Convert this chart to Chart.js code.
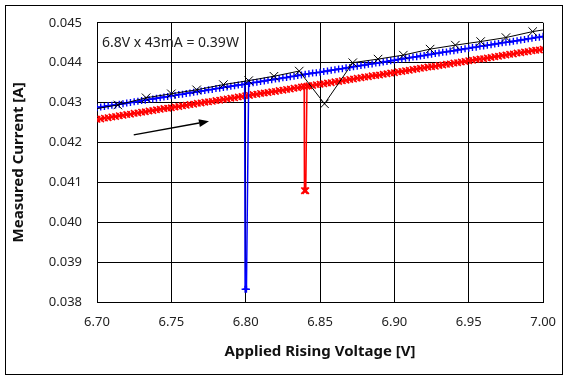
<!DOCTYPE html>
<html>
<head>
<meta charset="utf-8">
<script src="https://cdn.jsdelivr.net/npm/chart.js@4.4.1/dist/chart.umd.min.js"></script>
<style>
  html, body { margin: 0; padding: 0; background: #fff; }
  #wrap { position: relative; width: 568px; height: 379px; background: #fff; }
  #c { position: absolute; left: 0; top: 0; }
  #frame { position: absolute; left: 5px; top: 5px; width: 556px; height: 368px; border: 1px solid #000; pointer-events: none; }
</style>
</head>
<body>
<div id="wrap">
  <canvas id="c" width="568" height="379"></canvas>
  <div id="frame"></div>
</div>
<script>
// ---- Data ----
const voltage = [
  6.7000, 6.7025, 6.7050, 6.7075, 6.7100, 6.7125, 6.7150, 6.7175, 6.7200, 6.7225,
  6.7250, 6.7275, 6.7300, 6.7325, 6.7350, 6.7375, 6.7400, 6.7425, 6.7450, 6.7475,
  6.7500, 6.7525, 6.7550, 6.7575, 6.7600, 6.7625, 6.7650, 6.7675, 6.7700, 6.7725,
  6.7750, 6.7775, 6.7800, 6.7825, 6.7850, 6.7875, 6.7900, 6.7925, 6.7950, 6.7975,
  6.8000, 6.8025, 6.8050, 6.8075, 6.8100, 6.8125, 6.8150, 6.8175, 6.8200, 6.8225,
  6.8250, 6.8275, 6.8300, 6.8325, 6.8350, 6.8375, 6.8400, 6.8425, 6.8450, 6.8475,
  6.8500, 6.8525, 6.8550, 6.8575, 6.8600, 6.8625, 6.8650, 6.8675, 6.8700, 6.8725,
  6.8750, 6.8775, 6.8800, 6.8825, 6.8850, 6.8875, 6.8900, 6.8925, 6.8950, 6.8975,
  6.9000, 6.9025, 6.9050, 6.9075, 6.9100, 6.9125, 6.9150, 6.9175, 6.9200, 6.9225,
  6.9250, 6.9275, 6.9300, 6.9325, 6.9350, 6.9375, 6.9400, 6.9425, 6.9450, 6.9475,
  6.9500, 6.9525, 6.9550, 6.9575, 6.9600, 6.9625, 6.9650, 6.9675, 6.9700, 6.9725,
  6.9750, 6.9775, 6.9800, 6.9825, 6.9850, 6.9875, 6.9900, 6.9925, 6.9950, 6.9975,
  7.0000
];

// null = replaced by the dip readings below
const blueCurrent = [
  0.04287, 0.04289, 0.04290, 0.04292, 0.04293, 0.04294, 0.04296, 0.04297, 0.04299, 0.04300,
  0.04302, 0.04303, 0.04305, 0.04306, 0.04308, 0.04309, 0.04311, 0.04312, 0.04314, 0.04315,
  0.04317, 0.04318, 0.04320, 0.04321, 0.04323, 0.04324, 0.04326, 0.04327, 0.04329, 0.04330,
  0.04332, 0.04333, 0.04335, 0.04336, 0.04338, 0.04339, 0.04341, 0.04342, 0.04344, 0.04345,
  null,    0.04348, 0.04350, 0.04351, 0.04353, 0.04354, 0.04356, 0.04357, 0.04359, 0.04360,
  0.04362, 0.04363, 0.04365, 0.04366, 0.04368, 0.04369, 0.04371, 0.04372, 0.04374, 0.04375,
  0.04376, 0.04378, 0.04379, 0.04381, 0.04382, 0.04384, 0.04385, 0.04387, 0.04388, 0.04390,
  0.04391, 0.04393, 0.04394, 0.04396, 0.04397, 0.04399, 0.04400, 0.04402, 0.04403, 0.04405,
  0.04406, 0.04408, 0.04409, 0.04411, 0.04412, 0.04414, 0.04415, 0.04417, 0.04418, 0.04420,
  0.04421, 0.04423, 0.04424, 0.04426, 0.04427, 0.04429, 0.04430, 0.04432, 0.04433, 0.04435,
  0.04436, 0.04438, 0.04439, 0.04441, 0.04442, 0.04444, 0.04445, 0.04447, 0.04448, 0.04450,
  0.04451, 0.04452, 0.04454, 0.04455, 0.04457, 0.04458, 0.04460, 0.04461, 0.04463, 0.04464,
  0.04466
];
const blueDipVoltage = [6.7993, 6.7996, 6.8005, 6.8020];
const blueDipCurrent = [0.04346, 0.03832, 0.03832, 0.04349];

const redCurrent = [
  0.04258, 0.04259, 0.04261, 0.04262, 0.04264, 0.04265, 0.04267, 0.04268, 0.04270, 0.04271,
  0.04273, 0.04274, 0.04276, 0.04277, 0.04279, 0.04280, 0.04282, 0.04283, 0.04285, 0.04286,
  0.04287, 0.04289, 0.04290, 0.04292, 0.04293, 0.04295, 0.04296, 0.04298, 0.04299, 0.04301,
  0.04302, 0.04303, 0.04305, 0.04306, 0.04308, 0.04309, 0.04311, 0.04312, 0.04314, 0.04315,
  0.04317, 0.04318, 0.04320, 0.04321, 0.04323, 0.04324, 0.04325, 0.04327, 0.04328, 0.04330,
  0.04331, 0.04333, 0.04334, 0.04336, 0.04337, 0.04339, null,    0.04342, 0.04343, 0.04345,
  0.04346, 0.04347, 0.04349, 0.04350, 0.04352, 0.04353, 0.04355, 0.04356, 0.04358, 0.04359,
  0.04361, 0.04362, 0.04364, 0.04365, 0.04367, 0.04368, 0.04369, 0.04371, 0.04372, 0.04374,
  0.04375, 0.04377, 0.04378, 0.04380, 0.04381, 0.04383, 0.04384, 0.04386, 0.04387, 0.04389,
  0.04390, 0.04391, 0.04393, 0.04394, 0.04396, 0.04397, 0.04399, 0.04400, 0.04402, 0.04403,
  0.04405, 0.04406, 0.04408, 0.04409, 0.04410, 0.04412, 0.04413, 0.04415, 0.04416, 0.04418,
  0.04419, 0.04421, 0.04422, 0.04424, 0.04425, 0.04427, 0.04428, 0.04430, 0.04431, 0.04432,
  0.04434
];
const redDipVoltage = [6.8393, 6.8395, 6.8404, 6.8412];
const redDipCurrent = [0.04340, 0.04079, 0.04079, 0.04341];

const blackVoltage = [6.700, 6.714, 6.733, 6.750, 6.767, 6.785, 6.802, 6.819, 6.836, 6.853,
                      6.872, 6.889, 6.906, 6.924, 6.941, 6.958, 6.975, 6.993, 7.000];
const blackCurrent = [0.04285, 0.04294, 0.04312, 0.04322, 0.04332, 0.04345, 0.04355, 0.04366, 0.04379, 0.04297,
                      0.04400, 0.04409, 0.04419, 0.04434, 0.04444, 0.04453, 0.04463, 0.04478, 0.04482];

const xTickLabels = ['6.70', '6.75', '6.80', '6.85', '6.90', '6.95', '7.00'];
const yTickLabels = ['0.038', '0.039', '0.040', '0.041', '0.042', '0.043', '0.044', '0.045'];

const noteText = '6.8V x 43mA = 0.39W';
const xTitle = 'Applied Rising Voltage [V]';
const yTitle = 'Measured Current [A]';

// annotation anchors in data units
const noteAnchor = { x: 6.7033, y: 0.04449 };
const arrowFrom = { x: 6.7247, y: 0.04219 };
const arrowTo = { x: 6.7753, y: 0.04253 };

// ---- Build chart ----
const toPts = (xs, ys) => xs.map((x, i) => ({ x: x, y: ys[i] })).filter(p => p.y !== null);
const merged = (xs, ys, dx, dy) => toPts(xs, ys).concat(toPts(dx, dy)).sort((a, b) => a.x - b.x);

const annotationPlugin = {
  id: 'notes',
  afterDatasetsDraw(chart) {
    const { ctx, scales: { x, y } } = chart;
    ctx.save();
    ctx.fillStyle = '#222';
    ctx.font = '14px "Noto Sans", "DejaVu Sans", sans-serif';
    ctx.textAlign = 'left';
    ctx.textBaseline = 'middle';
    ctx.fillText(noteText, x.getPixelForValue(noteAnchor.x), y.getPixelForValue(noteAnchor.y));
    const x0 = x.getPixelForValue(arrowFrom.x), y0 = y.getPixelForValue(arrowFrom.y);
    const x1 = x.getPixelForValue(arrowTo.x), y1 = y.getPixelForValue(arrowTo.y);
    const ang = Math.atan2(y1 - y0, x1 - x0);
    const headLen = 10, headW = 4;
    const bx = x1 - headLen * Math.cos(ang), by = y1 - headLen * Math.sin(ang);
    ctx.strokeStyle = '#000';
    ctx.lineWidth = 1.5;
    ctx.beginPath();
    ctx.moveTo(x0, y0);
    ctx.lineTo(bx, by);
    ctx.stroke();
    ctx.fillStyle = '#000';
    ctx.beginPath();
    ctx.moveTo(x1, y1);
    ctx.lineTo(bx + headW * Math.sin(ang), by - headW * Math.cos(ang));
    ctx.lineTo(bx - headW * Math.sin(ang), by + headW * Math.cos(ang));
    ctx.closePath();
    ctx.fill();
    ctx.restore();
  }
};

const bgPlugin = {
  id: 'bg',
  beforeDraw(chart) {
    const ctx = chart.ctx;
    ctx.save();
    ctx.fillStyle = '#fff';
    ctx.fillRect(0, 0, chart.width, chart.height);
    ctx.restore();
  }
};

const tickFont = { family: '"Noto Sans", "DejaVu Sans", sans-serif', size: 13 };
const titleFont = { family: '"Noto Sans", "DejaVu Sans", sans-serif', size: 15, weight: 'bold' };

new Chart(document.getElementById('c'), {
  type: 'line',
  data: {
    datasets: [
      {
        label: 'black',
        data: toPts(blackVoltage, blackCurrent),
        borderColor: '#000',
        backgroundColor: '#000',
        borderWidth: 1,
        pointStyle: 'crossRot',
        pointRadius: (c) => (c.dataIndex === 0 || c.dataIndex === blackVoltage.length - 1) ? 0 : 6,
        pointBorderColor: '#000',
        pointBorderWidth: 1,
        fill: false,
        tension: 0
      },
      {
        label: 'blue',
        data: merged(voltage, blueCurrent, blueDipVoltage, blueDipCurrent),
        borderColor: '#0000ff',
        backgroundColor: '#0000ff',
        borderWidth: 1.5,
        pointStyle: 'cross',
        pointRadius: 3.5,
        pointBorderColor: '#0000ff',
        pointBorderWidth: 1.4,
        fill: false,
        tension: 0
      },
      {
        label: 'red',
        data: merged(voltage, redCurrent, redDipVoltage, redDipCurrent),
        borderColor: '#ff0000',
        backgroundColor: '#ff0000',
        borderWidth: 1.5,
        pointStyle: 'crossRot',
        pointRadius: 4.5,
        pointBorderColor: '#ff0000',
        pointBorderWidth: 1.6,
        fill: false,
        tension: 0
      }
    ]
  },
  options: {
    responsive: false,
    animation: false,
    devicePixelRatio: 1,
    layout: { padding: { left: 0, right: 21, top: 16, bottom: 0 } },
    plugins: { legend: { display: false }, tooltip: { enabled: false } },
    scales: {
      x: {
        type: 'linear',
        min: 6.7, max: 7.0,
        afterFit: (s) => { s.height = 77; },
        afterBuildTicks: (s) => { s.ticks = xTickLabels.map(t => ({ value: parseFloat(t) })); },
        ticks: {
          color: '#222', font: tickFont, padding: 12, maxRotation: 0,
          callback: (v, i) => xTickLabels[i]
        },
        grid: { color: '#000', lineWidth: 1, drawTicks: false },
        border: { color: '#000', width: 1 },
        title: { display: true, text: xTitle, color: '#111', font: titleFont, padding: { top: 0, bottom: 18 } }
      },
      y: {
        type: 'linear',
        min: 0.038, max: 0.045,
        afterFit: (s) => { s.width = 97; },
        afterBuildTicks: (s) => { s.ticks = yTickLabels.map(t => ({ value: parseFloat(t) })); },
        ticks: {
          color: '#222', font: tickFont, padding: 15,
          callback: (v, i) => yTickLabels[i]
        },
        grid: { color: '#000', lineWidth: 1, drawTicks: false },
        border: { color: '#000', width: 1 },
        title: { display: true, text: yTitle, color: '#111', font: titleFont, padding: { top: 10, bottom: 0 } }
      }
    }
  },
  plugins: [bgPlugin, annotationPlugin]
});
</script>
</body>
</html>
